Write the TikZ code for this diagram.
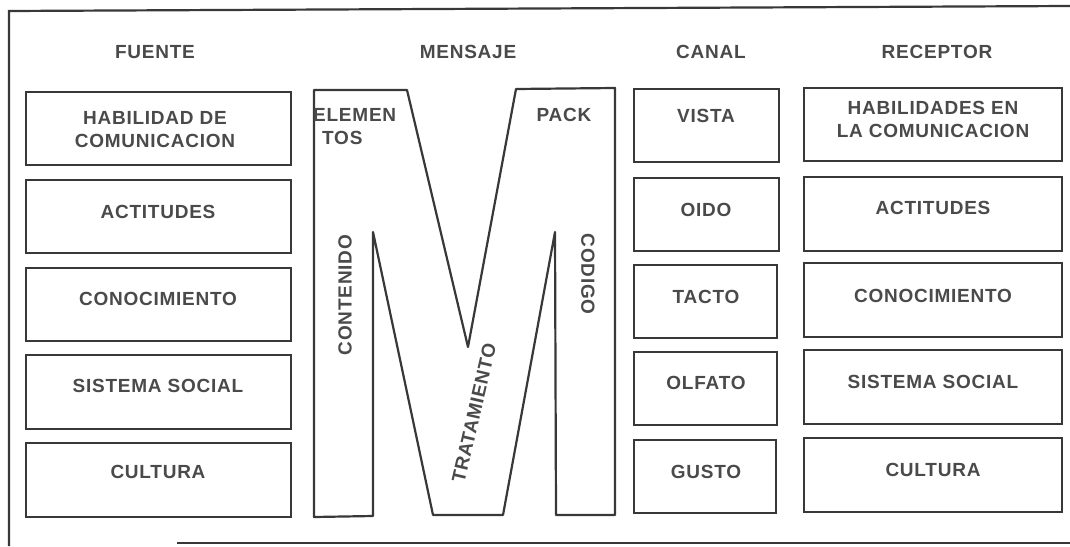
\documentclass[tikz,border=0pt]{standalone}
\usepackage{fontspec}
\setmainfont{Liberation Sans}[LetterSpace=4]
\definecolor{ink}{HTML}{383838}
\definecolor{txt}{HTML}{4A4A4A}
\begin{document}
\begin{tikzpicture}[x=1pt,y=-1pt,
  frame/.style={draw=ink, line width=2.2pt},
  boxst/.style={draw=ink, line width=2.2pt, rectangle, inner sep=0pt},
  lbl/.style={text=txt, font=\fontsize{19}{23}\selectfont\bfseries, align=center, inner sep=0pt},
  hdr/.style={text=txt, font=\fontsize{19}{22}\selectfont\bfseries, inner sep=0pt}]
\useasboundingbox (0,0) rectangle (1070,546);
\fill[white] (0,0) rectangle (1070,546);
% outer frame
\coordinate (ftr) at (1070,6);
\coordinate (ftl) at (9,11);
\coordinate (fbl) at (9,546);
\coordinate (fbs) at (177,543);
\coordinate (fbe) at (1070,543);
\draw[frame] (ftr) -- (ftl) -- (fbl);
\draw[frame, line width=1.6pt] (fbs) -- (fbe);
% headers
\node[hdr] (hF) at (155,52) {FUENTE};
\node[hdr] (hM) at (468,52) {MENSAJE};
\node[hdr] (hC) at (711,52) {CANAL};
\node[hdr] (hR) at (937,52) {RECEPTOR};
% box macro
\newcommand{\mybox}[5]{\node[boxst, minimum width={#4-#2}, minimum height={#5-#3}] (#1) at ({(#2+#4)/2},{(#3+#5)/2}) {};}
% FUENTE
\mybox{f1}{26}{92}{291}{165}
\mybox{f2}{26}{180}{291}{253}
\mybox{f3}{26}{268}{291}{341}
\mybox{f4}{26}{355}{291}{429}
\mybox{f5}{26}{443}{291}{517}
\node[lbl] (tf1) at (155,130) {HABILIDAD DE\\COMUNICACION};
\node[lbl] (tf2) at (158,212) {ACTITUDES};
\node[lbl] (tf3) at (158,299) {CONOCIMIENTO};
\node[lbl] (tf4) at (158,386) {SISTEMA SOCIAL};
\node[lbl] (tf5) at (158,472) {CULTURA};
% CANAL
\mybox{c1}{634}{89}{779}{162}
\mybox{c2}{634}{178}{779}{251}
\mybox{c3}{634}{265}{777}{338}
\mybox{c4}{634}{352}{777}{425}
\mybox{c5}{634}{440}{776}{513}
\node[lbl] (tc1) at (706,116) {VISTA};
\node[lbl] (tc2) at (706,210) {OIDO};
\node[lbl] (tc3) at (706,297) {TACTO};
\node[lbl] (tc4) at (706,383) {OLFATO};
\node[lbl] (tc5) at (706,472) {GUSTO};
% RECEPTOR
\mybox{r1}{804}{88}{1062}{161}
\mybox{r2}{804}{177}{1062}{251}
\mybox{r3}{804}{263}{1062}{337}
\mybox{r4}{804}{350}{1062}{424}
\mybox{r5}{804}{438}{1062}{512}
\node[lbl] (tr1) at (933,119) {HABILIDADES EN\\LA COMUNICACION};
\node[lbl] (tr2) at (933,208) {ACTITUDES};
\node[lbl] (tr3) at (933,296) {CONOCIMIENTO};
\node[lbl] (tr4) at (933,382) {SISTEMA SOCIAL};
\node[lbl] (tr5) at (933,470) {CULTURA};
% M shape
\draw[frame, line join=round] (314,90) -- (407,90) -- (468,347) -- (516,89) -- (615,88)
  -- (615,515) -- (556,515) -- (555,232) -- (503,515) -- (433,515) -- (373,232)
  -- (373,516) -- (314,517) -- cycle;
\node[lbl, anchor=west] (tm1) at (313,115) {ELEMEN};
\node[lbl, anchor=west] (tm2) at (322,138) {TOS};
\node[lbl] (tm3) at (564,115) {PACK};
\node[lbl, rotate=90] (tm4) at (345,295) {CONTENIDO};
\node[lbl, rotate=-90] (tm5) at (588,274) {CODIGO};
\node[lbl, rotate=77] (tm6) at (474,413) {TRATAMIENTO};
\end{tikzpicture}
\end{document}
